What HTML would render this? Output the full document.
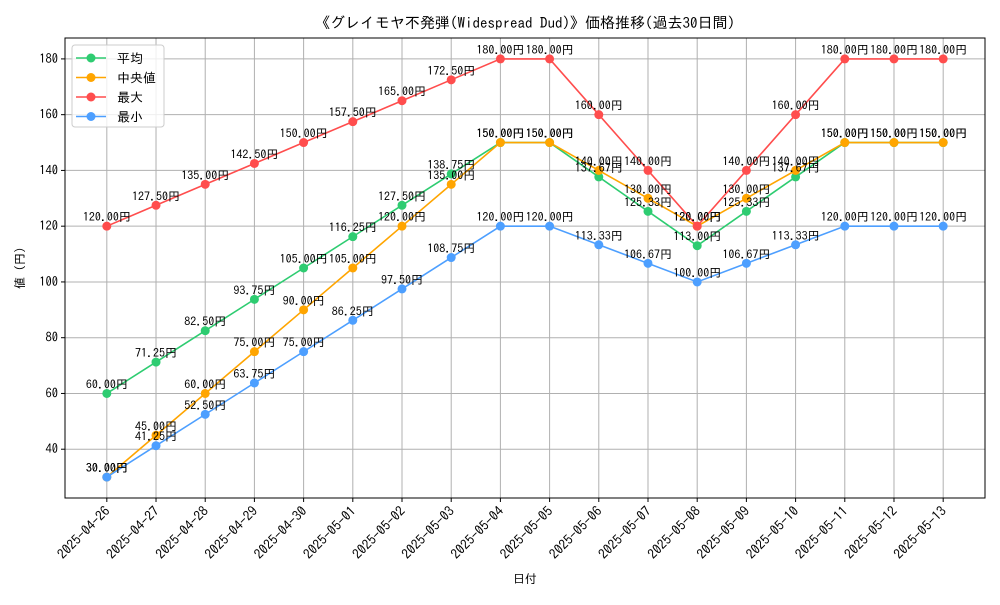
<!DOCTYPE html>
<html><head><meta charset="utf-8"><style>
body{margin:0;background:#fff}
svg text{font-family:"IPAGothic","Noto Sans CJK JP",sans-serif;}
</style></head><body>
<svg id="chart" width="1000" height="600" xmlns="http://www.w3.org/2000/svg">
<rect width="1000" height="600" fill="#fff"/>
<text x="525" y="28" font-size="15" text-anchor="middle">《グレイモヤ不発弾(Widespread Dud)》価格推移(過去30日間)</text>
<g id="grid"></g><g id="series"></g><g id="labels"></g>
<rect x="65" y="38" width="920" height="460" fill="none" stroke="#000" stroke-width="1"/>
<text x="525" y="583" font-size="12" text-anchor="middle">日付</text>
<text x="24" y="268" font-size="12" text-anchor="middle" transform="rotate(-90 24 268)">値 (円)</text>
<g id="legend">
<rect x="72" y="45" width="92" height="82" fill="#fff" fill-opacity="0.8" stroke="#ccc" rx="3"/>
</g>
</svg>
<script>
const dates=["2025-04-26","2025-04-27","2025-04-28","2025-04-29","2025-04-30","2025-05-01","2025-05-02","2025-05-03","2025-05-04","2025-05-05","2025-05-06","2025-05-07","2025-05-08","2025-05-09","2025-05-10","2025-05-11","2025-05-12","2025-05-13"];
const avgVals=[60,71.25,82.5,93.75,105,116.25,127.5,138.75,150,150,137.67,125.33,113,125.33,137.67,150,150,150];
const medVals=[30,45,60,75,90,105,120,135,150,150,140,130,120,130,140,150,150,150];
const maxVals=[120,127.5,135,142.5,150,157.5,165,172.5,180,180,160,140,120,140,160,180,180,180];
const minVals=[30,41.25,52.5,63.75,75,86.25,97.5,108.75,120,120,113.33,106.67,100,106.67,113.33,120,120,120];
const yTicks=[40,60,80,100,120,140,160,180];
const seriesNames=["平均","中央値","最大","最小"];
const NS="http://www.w3.org/2000/svg";
const L=65,R=985,T=38,B=498;
const n=dates.length,xmin=-0.85,xmax=n-1+0.85;
const allV=avgVals.concat(medVals,maxVals,minVals);
const vmin=Math.min(...allV),vmax=Math.max(...allV),pad=(vmax-vmin)*0.05;
const ymin=vmin-pad,ymax=vmax+pad;
const X=i=>L+(i-xmin)/(xmax-xmin)*(R-L);
const Y=v=>B-(v-ymin)/(ymax-ymin)*(B-T);
function mk(tag,attrs,parent){const e=document.createElementNS(NS,tag);for(const k in attrs)e.setAttribute(k,attrs[k]);parent.appendChild(e);return e;}
const grid=document.getElementById('grid'),svg=document.getElementById('chart');
dates.forEach((d,i)=>{
 const x=X(i);
 const g=mk('line',{x1:x,x2:x,y1:T,y2:B,stroke:'#b0b0b0','stroke-width':1},grid);
 
 
 mk('line',{x1:x,x2:x,y1:B,y2:B+4,stroke:'#000'},grid);
 const t=mk('text',{x:x+4,y:B+14,'font-size':13.5,'text-anchor':'end',transform:`rotate(-45 ${x+4} ${B+14})`},grid);
 
 
 t.textContent=d;
});
yTicks.forEach(v=>{
 const y=Y(v);
 const g=mk('line',{x1:L,x2:R,y1:y,y2:y,stroke:'#b0b0b0','stroke-width':1},grid);
 
 
 mk('line',{x1:L-4,x2:L,y1:y,y2:y,stroke:'#000'},grid);
 const t=mk('text',{x:L-7,y:y+4,'font-size':12.5,'text-anchor':'end'},grid);
 
 
 t.textContent=v;
});
const series=[[avgVals,'#2ecc71','avg'],[medVals,'#ffa500','median'],[maxVals,'#ff4d4d','max'],[minVals,'#4d9fff','min']];
const sg=document.getElementById('series'),lg=document.getElementById('labels');
series.forEach(([vals,col,nm])=>{
 const p=mk('polyline',{points:vals.map((v,i)=>X(i)+','+Y(v)).join(' '),fill:'none',stroke:col,'stroke-width':1.6},sg);
 
 
 vals.forEach((v,i)=>{
  const c=mk('circle',{cx:X(i),cy:Y(v),r:4.5,fill:col},sg);
  
  
  const t=mk('text',{x:X(i),y:Y(v)-5,'font-size':12,'text-anchor':'middle'},lg);
  
  
  t.textContent=v.toFixed(2)+'円';
 });
});
const leg=document.getElementById('legend');
series.forEach(([vals,col,nm],k)=>{
 const y=58+k*19.5;
 mk('line',{x1:76,x2:106,y1:y,y2:y,stroke:col,'stroke-width':1.6},leg);
 mk('circle',{cx:91,cy:y,r:4.5,fill:col},leg);
 const t=mk('text',{x:117,y:y+5,'font-size':13},leg);
 
 
 t.textContent=seriesNames[k];
});
</script>
</body></html>
